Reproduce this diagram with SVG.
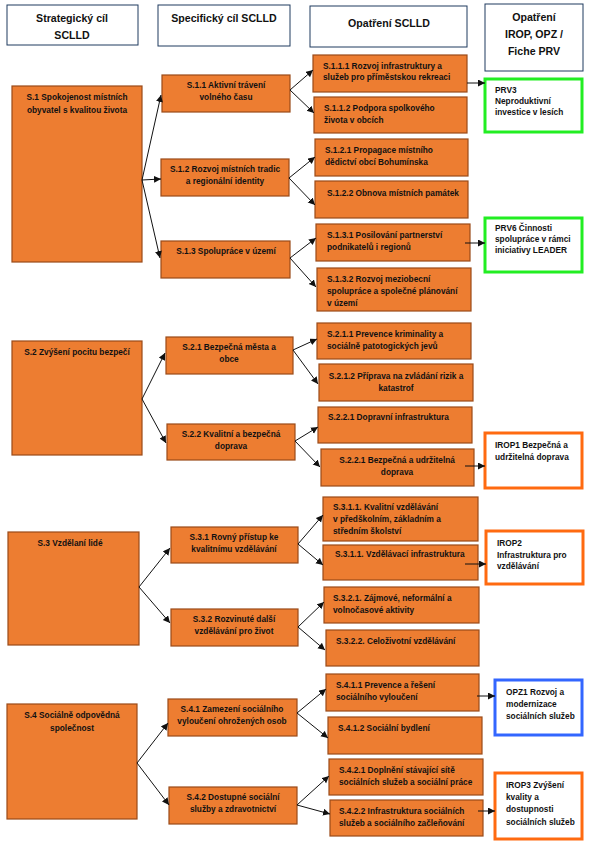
<svg xmlns="http://www.w3.org/2000/svg" width="592" height="847" viewBox="0 0 592 847">
<style>
.hd{fill:#fff;stroke:#1f3a5f;stroke-width:1}
.o{fill:#ed7d31;stroke:#9a4a18;stroke-width:1.2}
.g{fill:#fff;stroke:#22ee22;stroke-width:3}
.r{fill:#fff;stroke:#ff6a10;stroke-width:3}
.b{fill:#fff;stroke:#3366ff;stroke-width:3}
text{font-family:"Liberation Sans",Arial,sans-serif;font-weight:bold;fill:#111}
.h{font-size:10.6px;text-anchor:middle}
.t{font-size:8.3px}
.c{text-anchor:middle}
.cn line{stroke:#111;stroke-width:1;marker-end:url(#ah)}
</style>
<defs>
<marker id="ah" markerWidth="8" markerHeight="8" refX="7" refY="3.5" orient="auto" markerUnits="userSpaceOnUse">
<path d="M0,0 L7,3.5 L0,7 z" fill="#111"/>
</marker>
</defs>
<rect width="592" height="847" fill="#fff"/>

<g id="headers">
<g id="h1"><rect class="hd" x="7" y="5" width="131" height="40"/><text class="h" x="72" y="22">Strategický cíl</text><text class="h" x="72" y="39">SCLLD</text></g>
<g id="h2"><rect class="hd" x="158" y="5" width="132" height="41"/><text class="h" x="224" y="22">Specifický cíl SCLLD</text></g>
<g id="h3"><rect class="hd" x="310" y="6" width="157" height="41"/><text class="h" x="389" y="27">Opatření SCLLD</text></g>
<g id="h4"><rect class="hd" x="485" y="4" width="98" height="67"/><text class="h" x="534" y="21">Opatření</text><text class="h" x="534" y="38">IROP, OPZ /</text><text class="h" x="534" y="55">Fiche PRV</text></g>
</g>

<g id="n-S1"><rect class="o" x="12" y="86" width="130" height="176"/><text class="t c" x="77" y="100">S.1 Spokojenost místních</text><text class="t c" x="77" y="113">obyvatel s kvalitou života</text></g>
<g id="n-S2"><rect class="o" x="12" y="341" width="130" height="114"/><text class="t c" x="77" y="355">S.2 Zvýšení pocitu bezpečí</text></g>
<g id="n-S3"><rect class="o" x="8" y="532" width="131" height="113"/><text class="t c" x="70" y="546">S.3  Vzdělaní lidé</text></g>
<g id="n-S4"><rect class="o" x="7" y="704" width="130" height="115"/><text class="t c" x="72" y="718">S.4 Sociálně odpovědná</text><text class="t c" x="72" y="731">společnost</text></g>

<g id="n-S11"><rect class="o" x="162" y="75" width="128" height="37"/><text class="t c" x="226" y="88">S.1.1 Aktivní trávení</text><text class="t c" x="226" y="100">volného času</text></g>
<g id="n-S12"><rect class="o" x="161" y="159" width="128" height="37"/><text class="t c" x="225" y="172">S.1.2 Rozvoj místních tradic</text><text class="t c" x="225" y="184">a regionální identity</text></g>
<g id="n-S13"><rect class="o" x="161" y="241" width="129" height="37"/><text class="t c" x="226" y="254">S.1.3 Spolupráce v území</text></g>
<g id="n-S21"><rect class="o" x="166" y="337" width="127" height="37"/><text class="t c" x="229" y="350">S.2.1  Bezpečná města a</text><text class="t c" x="229" y="362">obce</text></g>
<g id="n-S22"><rect class="o" x="167" y="424" width="128" height="36"/><text class="t c" x="231" y="437">S.2.2  Kvalitní a bezpečná</text><text class="t c" x="231" y="449">doprava</text></g>
<g id="n-S31"><rect class="o" x="171" y="527" width="127" height="36"/><text class="t c" x="234" y="540">S.3.1 Rovný přístup ke</text><text class="t c" x="234" y="552">kvalitnímu vzdělávání</text></g>
<g id="n-S32"><rect class="o" x="171" y="609" width="127" height="37"/><text class="t c" x="234" y="622">S.3.2 Rozvinuté další</text><text class="t c" x="234" y="634">vzdělávání pro život</text></g>
<g id="n-S41"><rect class="o" x="168" y="699" width="129" height="37"/><text class="t c" x="232" y="712">S.4.1 Zamezení sociálního</text><text class="t c" x="232" y="724">vyloučení ohrožených osob</text></g>
<g id="n-S42"><rect class="o" x="169" y="787" width="128" height="37"/><text class="t c" x="233" y="800">S.4.2 Dostupné sociální</text><text class="t c" x="233" y="812">služby a zdravotnictví</text></g>

<g id="n-S111"><rect class="o" x="313" y="55" width="154" height="37"/><text class="t" x="323" y="69">S.1.1.1 Rozvoj infrastruktury a</text><text class="t" x="323" y="80">služeb pro příměstskou rekreaci</text></g>
<g id="n-S112"><rect class="o" x="314" y="97" width="153" height="36"/><text class="t" x="324" y="111">S.1.1.2 Podpora spolkového</text><text class="t" x="324" y="123">života v obcích</text></g>
<g id="n-S121"><rect class="o" x="315" y="139" width="153" height="37"/><text class="t" x="325" y="153">S.1.2.1 Propagace místního</text><text class="t" x="325" y="165">dědictví obcí Bohumínska</text></g>
<g id="n-S122"><rect class="o" x="315" y="181" width="153" height="37"/><text class="t" x="327" y="196">S.1.2.2 Obnova místních památek</text></g>
<g id="n-S131"><rect class="o" x="316" y="224" width="154" height="37"/><text class="t" x="327" y="238">S.1.3.1 Posilování partnerství</text><text class="t" x="327" y="250">podnikatelů i regionů</text></g>
<g id="n-S132"><rect class="o" x="317" y="268" width="154" height="43"/><text class="t" x="327" y="282">S.1.3.2 Rozvoj meziobecní</text><text class="t" x="327" y="294">spolupráce a společné plánování</text><text class="t" x="327" y="306">v území</text></g>
<g id="n-S211"><rect class="o" x="317" y="323" width="154" height="36"/><text class="t" x="327" y="337">S.2.1.1 Prevence kriminality a</text><text class="t" x="327" y="349">sociálně patotogických jevů</text></g>
<g id="n-S212"><rect class="o" x="319" y="364" width="154" height="37"/><text class="t c" x="396" y="379">S.2.1.2 Příprava na zvládání rizik a</text><text class="t c" x="396" y="391">katastrof</text></g>
<g id="n-S221"><rect class="o" x="318" y="407" width="154" height="36"/><text class="t" x="328" y="420">S.2.2.1 Dopravní infrastruktura</text></g>
<g id="n-S221b"><rect class="o" x="321" y="449" width="153" height="37"/><text class="t c" x="397" y="463">S.2.2.1 Bezpečná a udržitelná</text><text class="t c" x="397" y="475">doprava</text></g>
<g id="n-S311"><rect class="o" x="323" y="497" width="155" height="44"/><text class="t" x="333" y="510">S.3.1.1. Kvalitní vzdělávání</text><text class="t" x="333" y="522">v předškolním, základním a</text><text class="t" x="333" y="534">středním školství</text></g>
<g id="n-S311b"><rect class="o" x="323" y="545" width="155" height="35"/><text class="t" x="335" y="557">S.3.1.1. Vzdělávací infrastruktura</text></g>
<g id="n-S321"><rect class="o" x="324" y="587" width="155" height="36"/><text class="t" x="333" y="601">S.3.2.1. Zájmové, neformální a</text><text class="t" x="333" y="613">volnočasové aktivity</text></g>
<g id="n-S322"><rect class="o" x="326" y="630" width="153" height="36"/><text class="t" x="336" y="644">S.3.2.2. Celoživotní vzdělávání</text></g>
<g id="n-S411"><rect class="o" x="326" y="674" width="153" height="37"/><text class="t" x="336" y="688">S.4.1.1 Prevence a řešení</text><text class="t" x="336" y="700">sociálního vyloučení</text></g>
<g id="n-S412"><rect class="o" x="328" y="717" width="154" height="37"/><text class="t" x="338" y="731">S.4.1.2 Sociální bydlení</text></g>
<g id="n-S421"><rect class="o" x="329" y="759" width="154" height="36"/><text class="t" x="339" y="773">S.4.2.1 Doplnění stávající sítě</text><text class="t" x="339" y="785">sociálních služeb a sociální práce</text></g>
<g id="n-S422"><rect class="o" x="330" y="800" width="153" height="36"/><text class="t" x="339" y="814">S.4.2.2 Infrastruktura sociálních</text><text class="t" x="339" y="826">služeb a sociálního začleňování</text></g>

<g id="n-PRV3"><rect class="g" x="485" y="79" width="97" height="53"/><text class="t" x="495" y="93">PRV3</text><text class="t" x="495" y="104">Neproduktivní</text><text class="t" x="495" y="115">investice v lesích</text></g>
<g id="n-PRV6"><rect class="g" x="485" y="218" width="97" height="54"/><text class="t" x="495" y="231">PRV6 Činnosti</text><text class="t" x="495" y="242">spolupráce v rámci</text><text class="t" x="495" y="253">iniciativy LEADER</text></g>
<g id="n-IROP1"><rect class="r" x="485" y="433" width="97" height="55"/><text class="t" x="495" y="448">IROP1 Bezpečná a</text><text class="t" x="495" y="460">udržitelná doprava</text></g>
<g id="n-IROP2"><rect class="r" x="486" y="531" width="97" height="53"/><text class="t" x="497" y="546">IROP2</text><text class="t" x="497" y="558">Infrastruktura pro</text><text class="t" x="497" y="569">vzdělávání</text></g>
<g id="n-OPZ1"><rect class="b" x="495" y="680" width="87" height="55"/><text class="t" x="506" y="695">OPZ1 Rozvoj a</text><text class="t" x="506" y="707">modernizace</text><text class="t" x="506" y="719">sociálních služeb</text></g>
<g id="n-IROP3"><rect class="r" x="495" y="773" width="87" height="66"/><text class="t" x="506" y="788">IROP3 Zvýšení</text><text class="t" x="506" y="800">kvality a</text><text class="t" x="506" y="812">dostupnosti</text><text class="t" x="506" y="825">sociálních služeb</text></g>

<g id="connectors" class="cn">
<line x1="142" y1="180" x2="161" y2="95"/>
<line x1="142" y1="180" x2="161" y2="179"/>
<line x1="142" y1="180" x2="160" y2="258"/>
<line x1="290" y1="90" x2="313" y2="70"/>
<line x1="290" y1="90" x2="314" y2="113"/>
<line x1="289" y1="178" x2="315" y2="157"/>
<line x1="289" y1="178" x2="315" y2="205"/>
<line x1="290" y1="258" x2="316" y2="238"/>
<line x1="290" y1="258" x2="316" y2="287"/>
<line x1="142" y1="399" x2="165" y2="353"/>
<line x1="142" y1="399" x2="166" y2="443"/>
<line x1="293" y1="350" x2="317" y2="339"/>
<line x1="293" y1="350" x2="318" y2="384"/>
<line x1="295" y1="441" x2="318" y2="427"/>
<line x1="295" y1="441" x2="320" y2="467"/>
<line x1="139" y1="587" x2="170" y2="548"/>
<line x1="139" y1="587" x2="170" y2="623"/>
<line x1="298" y1="544" x2="323" y2="515"/>
<line x1="298" y1="544" x2="323" y2="565"/>
<line x1="298" y1="627" x2="324" y2="602"/>
<line x1="298" y1="627" x2="325" y2="650"/>
<line x1="137" y1="763" x2="168" y2="723"/>
<line x1="137" y1="763" x2="169" y2="805"/>
<line x1="297" y1="713" x2="326" y2="689"/>
<line x1="297" y1="713" x2="328" y2="738"/>
<line x1="297" y1="805" x2="329" y2="776"/>
<line x1="297" y1="805" x2="330" y2="814"/>
<line x1="467" y1="83" x2="485" y2="83"/>
<line x1="465" y1="243" x2="485" y2="243"/>
<line x1="465" y1="466" x2="485" y2="466"/>
<line x1="465" y1="564" x2="486" y2="564"/>
<line x1="477" y1="696" x2="495" y2="696"/>
<line x1="478" y1="811" x2="495" y2="811"/>
</g>
</svg>
